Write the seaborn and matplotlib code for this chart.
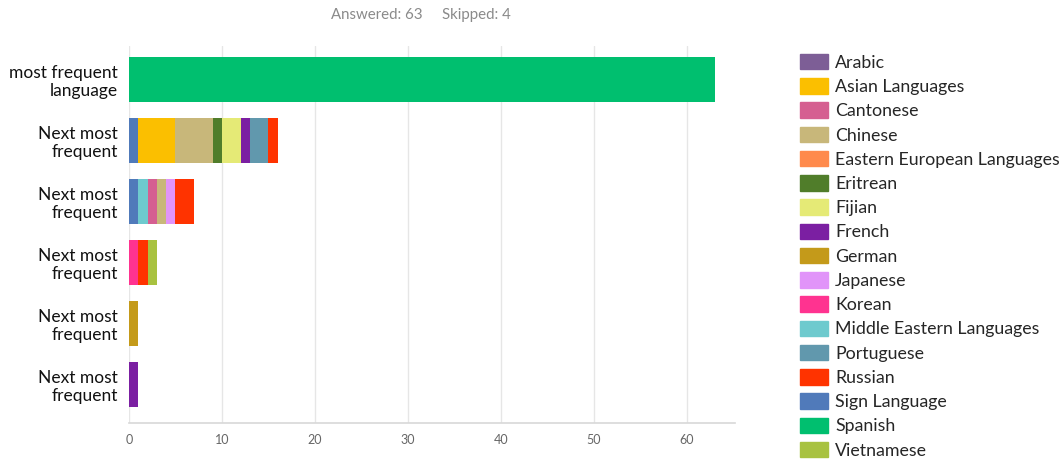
import matplotlib
matplotlib.use("Agg")
import matplotlib.pyplot as plt
import matplotlib.patches as mpatches
import seaborn as sns
import pandas as pd

# ---- data ----
row_labels = ["most frequent\nlanguage", "Next most\nfrequent", "Next most\nfrequent",
              "Next most\nfrequent", "Next most\nfrequent", "Next most\nfrequent"]
row_keys = ["r1", "r2", "r3", "r4", "r5", "r6"]

r1_langs = ["Spanish"]
r1_counts = [63]
r2_langs = ["Sign Language", "Asian Languages", "Chinese", "Eritrean", "Fijian",
            "French", "Portuguese", "Russian"]
r2_counts = [1, 4, 4, 1, 2, 1, 2, 1]
r3_langs = ["Sign Language", "Middle Eastern Languages", "Cantonese", "Chinese",
            "Japanese", "Russian"]
r3_counts = [1, 1, 1, 1, 1, 2]
r4_langs = ["Korean", "Russian", "Vietnamese"]
r4_counts = [1, 1, 1]
r5_langs = ["German"]
r5_counts = [1]
r6_langs = ["French"]
r6_counts = [1]

legend_langs = ["Arabic", "Asian Languages", "Cantonese", "Chinese",
                "Eastern European Languages", "Eritrean", "Fijian", "French",
                "German", "Japanese", "Korean", "Middle Eastern Languages",
                "Portuguese", "Russian", "Sign Language", "Spanish", "Vietnamese"]
legend_colors = ["#7d5e96", "#fbbf00", "#d55f91", "#c8b77a", "#ff8a4c", "#507d2a",
                 "#e5ea76", "#7b1fa2", "#c49a1a", "#e194f9", "#ff3390", "#6ecace",
                 "#6198ad", "#ff3300", "#507aba", "#00bf6f", "#a8c240"]
color_map = dict(zip(legend_langs, legend_colors))

x_ticks = [0, 10, 20, 30, 40, 50, 60]
title_text = "Answered: 63     Skipped: 4"

rows = [(r1_langs, r1_counts), (r2_langs, r2_counts), (r3_langs, r3_counts),
        (r4_langs, r4_counts), (r5_langs, r5_counts), (r6_langs, r6_counts)]

# ---- figure ----
sns.set_style("white")
plt.rcParams["font.family"] = ["Lato", "DejaVu Sans"]

fig = plt.figure(figsize=(10.62, 4.61), dpi=100)
ax = fig.add_axes([129 / 1062, 1 - 423 / 461, (735 - 129) / 1062, (423 - 46) / 461])

# Painter approach: draw cumulative widths from longest to shortest per row
for key, (langs, counts) in zip(row_keys, rows):
    cum = pd.Series(counts).cumsum().tolist()
    for lang, end in reversed(list(zip(langs, cum))):
        df = pd.DataFrame({"row": [key], "value": [end]})
        sns.barplot(data=df, x="value", y="row", order=row_keys, orient="h",
                    color=color_map[lang], width=0.73, linewidth=0,
                    saturation=1, ax=ax, zorder=3)

ax.set_xlim(0, 65.2)
ax.set_ylim(5.63, -0.55)
ax.set_xticks(x_ticks)
ax.set_xticklabels([str(t) for t in x_ticks], color="#666666", fontsize=9)
ax.set_yticks(range(len(row_keys)))
ax.set_yticklabels(row_labels, fontsize=12.5, color="#111111", linespacing=1.15)
ax.tick_params(axis="both", length=0)
ax.tick_params(axis="x", pad=8)
ax.tick_params(axis="y", pad=8)
ax.set_xlabel("")
ax.set_ylabel("")
ax.grid(axis="x", color="#e6e6e6", linewidth=1, zorder=0)
ax.set_axisbelow(True)
for s in ["top", "right", "left"]:
    ax.spines[s].set_visible(False)
ax.spines["bottom"].set_color("#d8d8d8")
ax.spines["bottom"].set_linewidth(1.2)

fig.text(421 / 1062, 1 - 15 / 461, title_text, ha="center", va="center",
         color="#8a8a8a", fontsize=10.8)

handles = [mpatches.Patch(color=c, label=l) for l, c in zip(legend_langs, legend_colors)]
fig.legend(handles=handles, loc="upper left", bbox_to_anchor=(800 / 1062, 1 - 54 / 461),
           frameon=False, fontsize=12.8, handlelength=1.57, handleheight=0.95,
           handletextpad=0.4, labelspacing=0.42, borderaxespad=0, borderpad=0)

fig.savefig("out.png", dpi=100)
